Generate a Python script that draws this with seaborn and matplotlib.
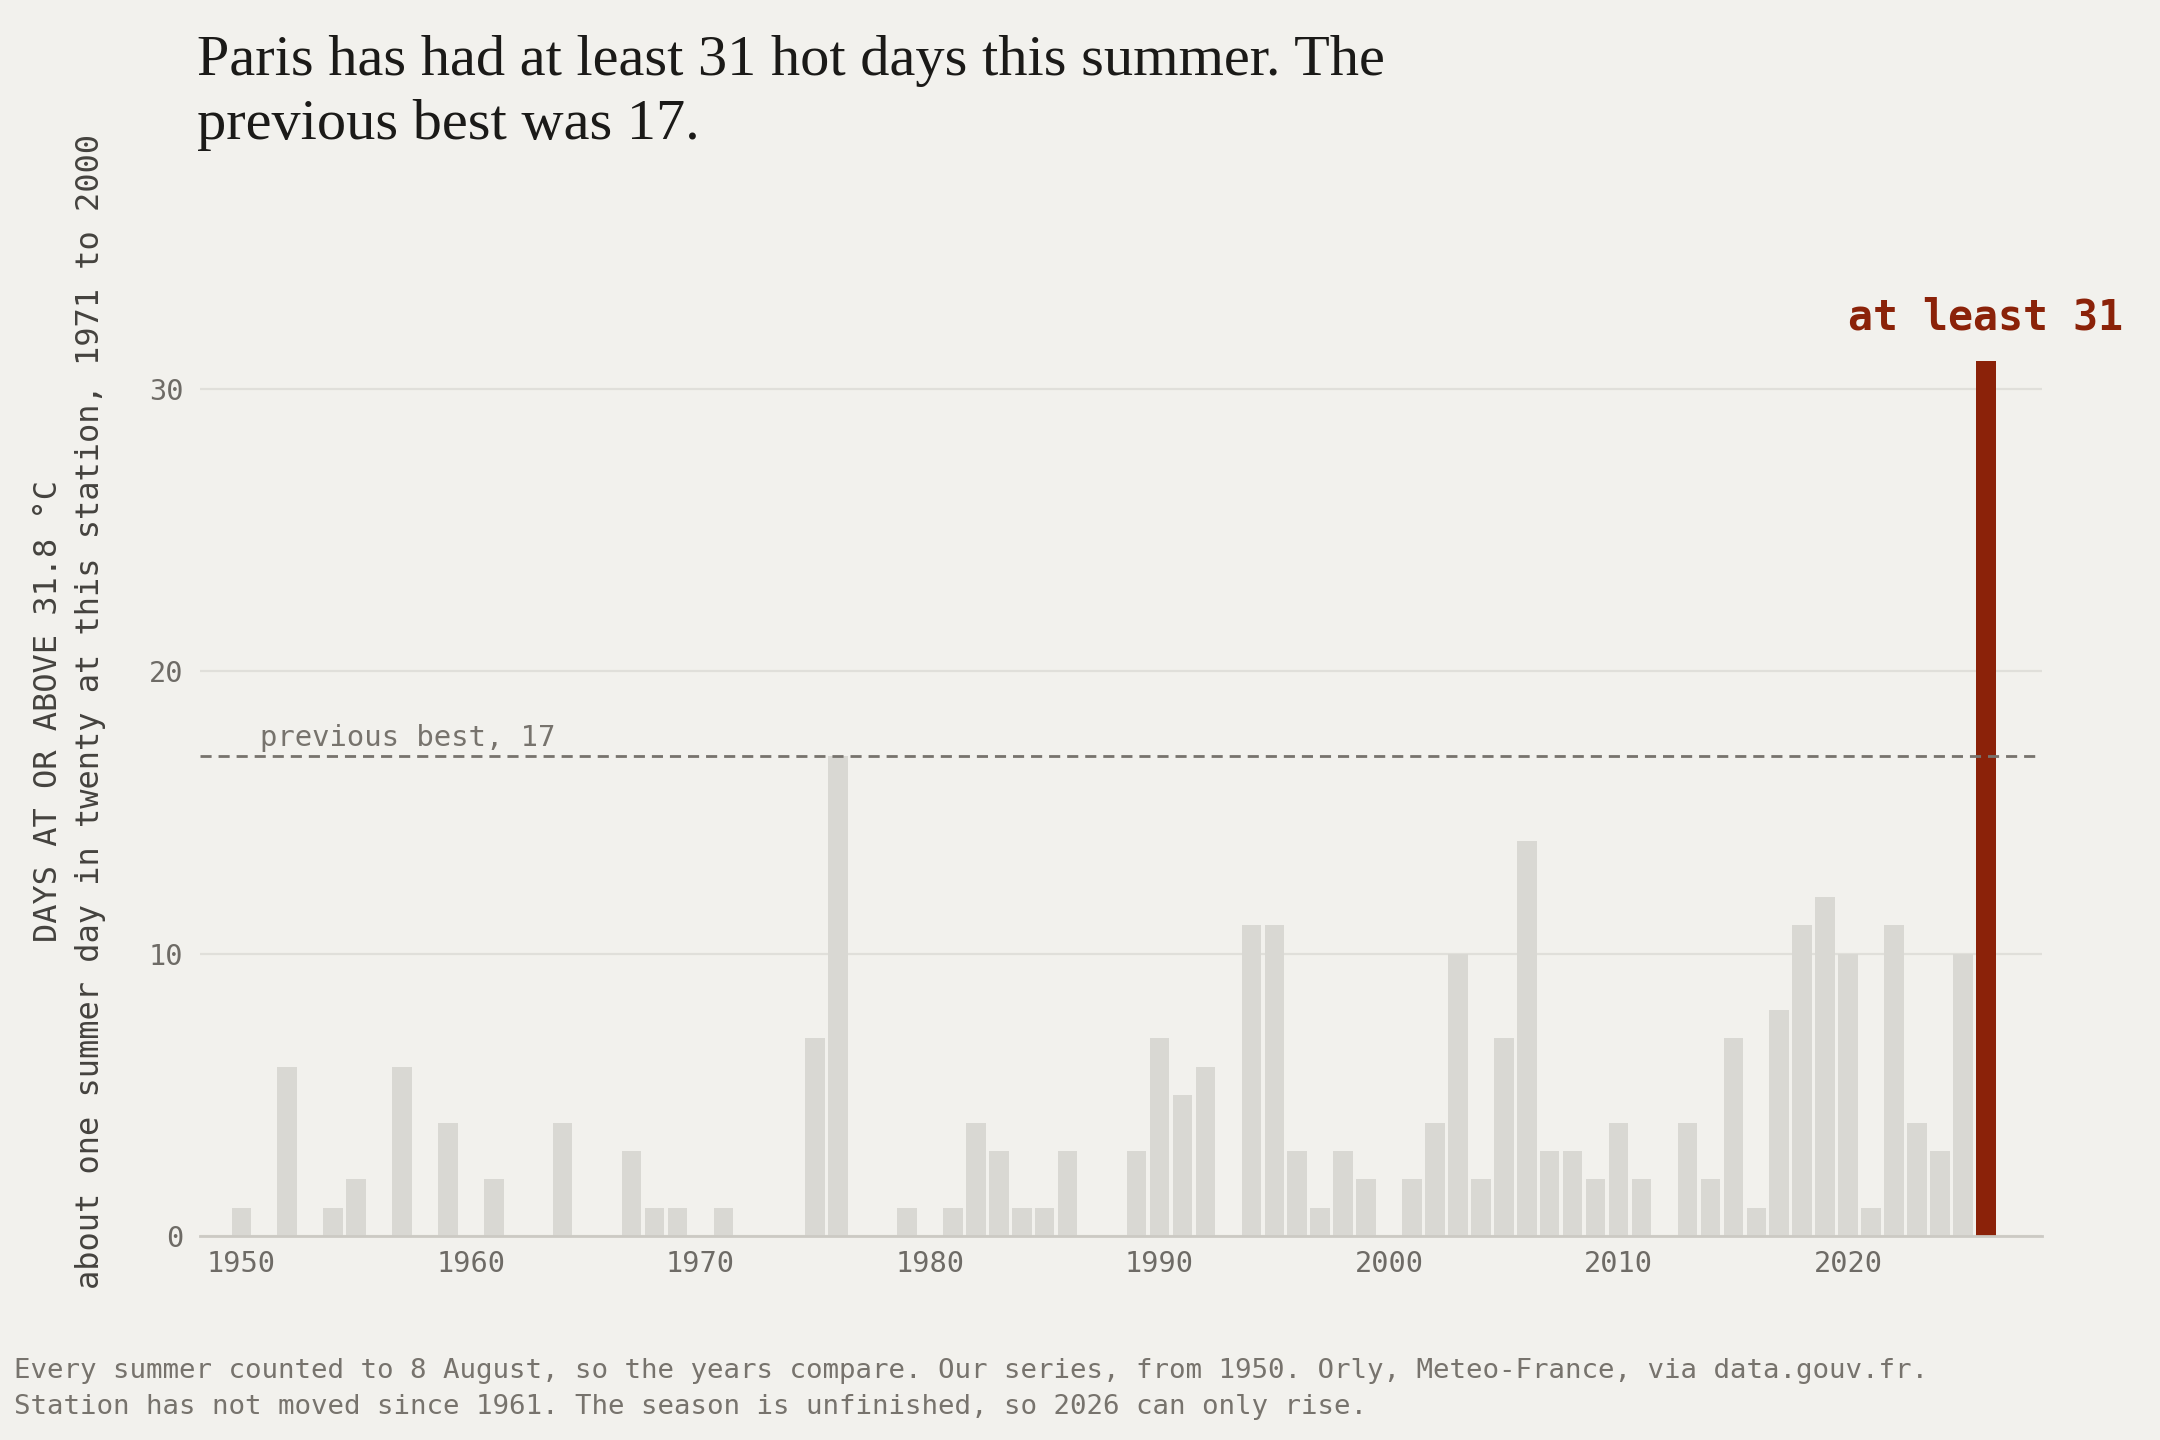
import matplotlib
matplotlib.use("Agg")
import matplotlib.pyplot as plt
import seaborn as sns

years = list(range(1950, 2027))
hot_days = [
    1, 0, 6, 0, 1, 2, 0, 6, 0, 4,        # 1950s
    0, 2, 0, 0, 4, 0, 0, 3, 1, 1,        # 1960s
    0, 1, 0, 0, 0, 7, 17, 0, 0, 1,       # 1970s
    0, 1, 4, 3, 1, 1, 3, 0, 0, 3,        # 1980s
    7, 5, 6, 0, 11, 11, 3, 1, 3, 2,      # 1990s
    0, 2, 4, 10, 2, 7, 14, 3, 3, 2,      # 2000s
    4, 2, 0, 4, 2, 7, 1, 8, 11, 12,      # 2010s
    10, 1, 11, 4, 3, 10, 31,             # 2020s
]
previous_best = 17
current_year = 2026
x_ticks = [1950, 1960, 1970, 1980, 1990, 2000, 2010, 2020]
y_ticks = [0, 10, 20, 30]

BG = "#F2F1ED"
BAR_GREY = "#D9D8D3"
RED = "#8B2209"
MUTED = "#6E6B66"
MONO = "DejaVu Sans Mono"
SERIF = "Liberation Serif"

sns.set_theme(style="white")
plt.rcParams["font.family"] = [MONO, "DejaVu Sans"]

fig = plt.figure(figsize=(10.8, 7.2), dpi=200, facecolor=BG)
ax = fig.add_axes([0.0926, 0.1417, 0.8528, 0.7254])
ax.set_facecolor(BG)

labels = [str(y) for y in years]
palette = {str(y): (RED if y == current_year else BAR_GREY) for y in years}
sns.barplot(
    x=years,
    y=hot_days,
    hue=labels,
    palette=palette,
    dodge=False,
    legend=False,
    native_scale=True,
    width=0.85,
    saturation=1,
    linewidth=0,
    ax=ax,
    zorder=2,
)

ax.set_xlim(1948.2, 2028.45)
ax.set_ylim(0, 37)
ax.set_xticks(x_ticks)
ax.set_xticklabels([str(t) for t in x_ticks])
ax.set_yticks(y_ticks)
ax.tick_params(axis="both", length=0, labelsize=10.3, labelcolor=MUTED)
ax.tick_params(axis="x", pad=5)
ax.tick_params(axis="y", pad=6)
ax.yaxis.grid(True, color="#E0DFDA", linewidth=0.8, zorder=0)
ax.set_axisbelow(True)
for side in ["top", "right", "left"]:
    ax.spines[side].set_visible(False)
ax.spines["bottom"].set_color("#CCCAC4")
ax.spines["bottom"].set_linewidth(1.0)
ax.set_xlabel("")
ax.set_ylabel("")

# dashed reference line for the old record
ax.axhline(previous_best, color="#77736D", linewidth=1.0, linestyle=(0, (4, 2.5)), zorder=3)
ax.text(1950.8, previous_best + 0.15, f"previous best, {previous_best}", ha="left", va="bottom",
        fontsize=10.4, color="#77736D")

ax.text(current_year, hot_days[-1] + 0.8, f"at least {hot_days[-1]}", ha="center", va="bottom",
        fontsize=15, fontweight="bold", color=RED, clip_on=False)

fig.text(0.032, 0.506,
         "DAYS AT OR ABOVE 31.8 °C\nabout one summer day in twenty at this station, 1971 to 2000",
         rotation=90, ha="center", va="center", multialignment="center",
         fontsize=11.5, color="#44423E", linespacing=1.45)

fig.text(0.091, 0.976,
         "Paris has had at least 31 hot days this summer. The\nprevious best was 17.",
         ha="left", va="top", fontsize=21, family=SERIF, color="#1B1A18", linespacing=1.3)

fig.text(0.0065, 0.057,
         "Every summer counted to 8 August, so the years compare. Our series, from 1950. Orly, Meteo-France, via data.gouv.fr.\n"
         "Station has not moved since 1961. The season is unfinished, so 2026 can only rise.",
         ha="left", va="top", fontsize=9.9, color="#77736D", linespacing=1.5)

fig.savefig("out.png", dpi=200, facecolor=BG)
